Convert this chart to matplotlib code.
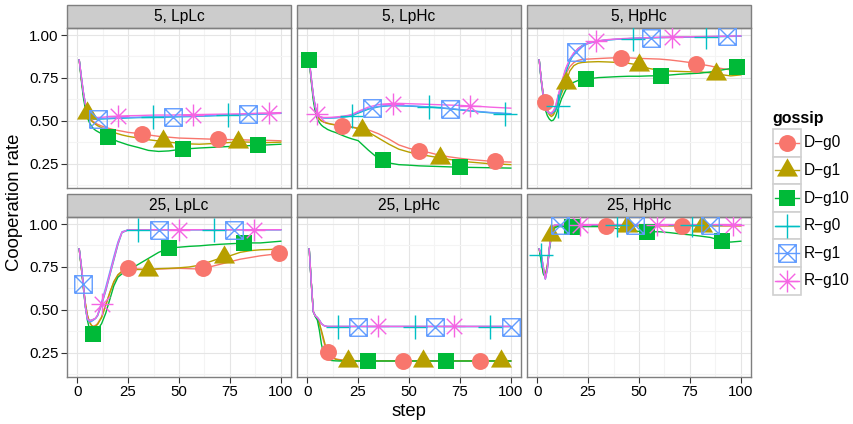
import numpy as np
import matplotlib
matplotlib.use('Agg')
import matplotlib.pyplot as plt
from matplotlib.path import Path
from matplotlib.patches import Rectangle

plt.rcParams['font.family'] = ['Liberation Sans', 'DejaVu Sans']

# ---- data ----
PANELS = ['5, LpLc', '5, LpHc', '5, HpHc', '25, LpLc', '25, LpHc', '25, HpHc']
GOSSIP = ['D\u2212g0', 'D\u2212g1', 'D\u2212g10', 'R\u2212g0', 'R\u2212g1', 'R\u2212g10']
COLORS = ['#F8766D', '#B79F00', '#00BA38', '#00BFC4', '#619CFF', '#F564E3']

STEPS = [1, 2, 3, 4, 5, 6, 7, 8, 9, 10, 12, 14, 16, 18, 20, 22, 25, 30, 35, 40,
         45, 50, 55, 60, 65, 70, 75, 80, 85, 90, 95, 100]

# 5, LpLc
p1_dg0 = [0.855, 0.75, 0.66, 0.59, 0.545, 0.52, 0.505, 0.495, 0.487, 0.48, 0.47, 0.462, 0.455, 0.449, 0.444, 0.44,
          0.433, 0.427, 0.418, 0.41, 0.405, 0.40, 0.398, 0.396, 0.394, 0.393, 0.391, 0.39, 0.388, 0.387, 0.386, 0.384]
p1_dg1 = [0.855, 0.75, 0.66, 0.59, 0.545, 0.515, 0.50, 0.49, 0.48, 0.472, 0.46, 0.45, 0.44, 0.432, 0.425, 0.418,
          0.41, 0.40, 0.39, 0.383, 0.376, 0.37, 0.366, 0.364, 0.367, 0.37, 0.374, 0.378, 0.376, 0.373, 0.374, 0.376]
p1_dg10 = [0.855, 0.74, 0.64, 0.57, 0.52, 0.49, 0.47, 0.455, 0.445, 0.438, 0.425, 0.412, 0.40, 0.39, 0.38, 0.372,
           0.36, 0.345, 0.328, 0.322, 0.325, 0.333, 0.338, 0.342, 0.345, 0.348, 0.351, 0.354, 0.356, 0.358, 0.361, 0.364]
p1_rg0 = [0.855, 0.76, 0.67, 0.60, 0.55, 0.525, 0.515, 0.51, 0.51, 0.51, 0.511, 0.512, 0.513, 0.514, 0.515, 0.515,
          0.517, 0.519, 0.52, 0.521, 0.522, 0.524, 0.525, 0.527, 0.529, 0.531, 0.533, 0.535, 0.537, 0.539, 0.542, 0.545]
p1_rg1 = [0.855, 0.76, 0.67, 0.60, 0.55, 0.525, 0.516, 0.512, 0.512, 0.513, 0.514, 0.515, 0.516, 0.517, 0.518, 0.518,
          0.52, 0.521, 0.523, 0.523, 0.525, 0.526, 0.527, 0.529, 0.531, 0.533, 0.534, 0.536, 0.538, 0.54, 0.542, 0.545]
p1_rg10 = [0.855, 0.76, 0.67, 0.60, 0.555, 0.53, 0.52, 0.518, 0.518, 0.52, 0.521, 0.523, 0.525, 0.526, 0.527, 0.528,
           0.53, 0.531, 0.533, 0.534, 0.534, 0.535, 0.536, 0.537, 0.538, 0.539, 0.54, 0.541, 0.543, 0.545, 0.546, 0.548]
p1_marks = [[32, 69], [5, 42, 79], [15, 52, 89], [37, 74], [10, 47, 84], [20, 57, 94]]

# 5, LpHc
p2_dg0 = [0.855, 0.74, 0.64, 0.57, 0.53, 0.51, 0.50, 0.495, 0.49, 0.487, 0.481, 0.477, 0.473, 0.47, 0.467, 0.464,
          0.458, 0.448, 0.425, 0.395, 0.36, 0.34, 0.327, 0.315, 0.30, 0.29, 0.282, 0.275, 0.27, 0.265, 0.262, 0.26]
p2_dg1 = [0.855, 0.74, 0.64, 0.57, 0.53, 0.51, 0.50, 0.494, 0.489, 0.485, 0.48, 0.476, 0.473, 0.47, 0.467, 0.463,
          0.455, 0.435, 0.40, 0.365, 0.335, 0.318, 0.305, 0.295, 0.285, 0.275, 0.268, 0.26, 0.255, 0.25, 0.248, 0.245]
p2_dg10 = [0.855, 0.73, 0.62, 0.55, 0.51, 0.49, 0.475, 0.465, 0.458, 0.45, 0.44, 0.432, 0.422, 0.412, 0.403, 0.395,
           0.385, 0.33, 0.28, 0.255, 0.245, 0.242, 0.238, 0.236, 0.234, 0.232, 0.23, 0.229, 0.228, 0.227, 0.226, 0.225]
p2_rg0 = [0.855, 0.75, 0.65, 0.58, 0.54, 0.525, 0.52, 0.518, 0.517, 0.517, 0.517, 0.518, 0.52, 0.522, 0.525, 0.53,
          0.545, 0.568, 0.582, 0.588, 0.588, 0.586, 0.583, 0.58, 0.576, 0.57, 0.564, 0.558, 0.552, 0.547, 0.544, 0.54]
p2_rg1 = [0.855, 0.75, 0.65, 0.58, 0.54, 0.525, 0.52, 0.518, 0.517, 0.517, 0.518, 0.519, 0.521, 0.524, 0.528, 0.534,
          0.55, 0.572, 0.584, 0.59, 0.59, 0.588, 0.585, 0.581, 0.577, 0.572, 0.566, 0.56, 0.554, 0.549, 0.545, 0.542]
p2_rg10 = [0.855, 0.75, 0.65, 0.58, 0.54, 0.527, 0.522, 0.52, 0.52, 0.52, 0.521, 0.523, 0.525, 0.528, 0.532, 0.538,
           0.555, 0.58, 0.595, 0.60, 0.602, 0.60, 0.598, 0.596, 0.594, 0.592, 0.59, 0.587, 0.584, 0.58, 0.577, 0.574]
p2_marks = [[17, 55, 92], [27, 65], [1, 37, 75], [22, 60, 97], [32, 70], [5, 42, 80]]

# 5, HpHc
p3_dg0 = [0.855, 0.74, 0.66, 0.61, 0.57, 0.545, 0.535, 0.545, 0.57, 0.61, 0.70, 0.77, 0.815, 0.84, 0.852, 0.858,
          0.86, 0.863, 0.866, 0.868, 0.867, 0.864, 0.862, 0.86, 0.855, 0.848, 0.84, 0.83, 0.82, 0.806, 0.797, 0.79]
p3_dg1 = [0.855, 0.74, 0.65, 0.59, 0.555, 0.535, 0.525, 0.535, 0.56, 0.60, 0.66, 0.72, 0.79, 0.822, 0.835, 0.84,
          0.843, 0.845, 0.843, 0.84, 0.835, 0.825, 0.805, 0.795, 0.79, 0.788, 0.786, 0.785, 0.78, 0.77, 0.762, 0.768]
p3_dg10 = [0.855, 0.73, 0.63, 0.565, 0.53, 0.51, 0.50, 0.505, 0.525, 0.56, 0.63, 0.68, 0.71, 0.725, 0.735, 0.74,
           0.745, 0.752, 0.755, 0.758, 0.76, 0.76, 0.762, 0.763, 0.767, 0.772, 0.775, 0.778, 0.785, 0.795, 0.805, 0.815]
p3_rg0 = [0.855, 0.74, 0.645, 0.585, 0.555, 0.545, 0.545, 0.55, 0.56, 0.585, 0.68, 0.78, 0.845, 0.89, 0.92, 0.938,
          0.955, 0.966, 0.972, 0.976, 0.979, 0.981, 0.983, 0.985, 0.986, 0.987, 0.988, 0.989, 0.99, 0.991, 0.992, 0.993]
p3_rg1 = [0.855, 0.74, 0.645, 0.585, 0.555, 0.545, 0.545, 0.555, 0.58, 0.63, 0.72, 0.80, 0.855, 0.893, 0.915, 0.932,
          0.95, 0.965, 0.972, 0.976, 0.979, 0.982, 0.984, 0.986, 0.987, 0.988, 0.989, 0.99, 0.991, 0.992, 0.993, 0.994]
p3_rg10 = [0.855, 0.74, 0.645, 0.585, 0.555, 0.545, 0.548, 0.56, 0.585, 0.635, 0.725, 0.805, 0.86, 0.897, 0.92, 0.936,
           0.953, 0.967, 0.974, 0.978, 0.981, 0.983, 0.985, 0.987, 0.988, 0.989, 0.99, 0.991, 0.992, 0.993, 0.994, 0.995]
p3_marks = [[4, 41, 78], [14, 50, 88], [24, 61, 98], [10, 47, 83], [19, 56, 93], [29, 66]]

# 25, LpLc
p4_dg0 = [0.855, 0.75, 0.64, 0.54, 0.47, 0.43, 0.41, 0.405, 0.41, 0.42, 0.46, 0.53, 0.60, 0.66, 0.70, 0.725,
          0.742, 0.738, 0.735, 0.738, 0.74, 0.742, 0.74, 0.738, 0.75, 0.765, 0.78, 0.795, 0.805, 0.815, 0.822, 0.83]
p4_dg1 = [0.855, 0.75, 0.64, 0.54, 0.47, 0.43, 0.41, 0.40, 0.405, 0.415, 0.455, 0.525, 0.60, 0.665, 0.705, 0.725,
          0.735, 0.735, 0.735, 0.74, 0.742, 0.745, 0.75, 0.76, 0.78, 0.80, 0.815, 0.835, 0.845, 0.85, 0.852, 0.855]
p4_dg10 = [0.855, 0.75, 0.63, 0.52, 0.44, 0.39, 0.37, 0.36, 0.37, 0.385, 0.42, 0.48, 0.56, 0.64, 0.69, 0.71,
           0.73, 0.765, 0.80, 0.835, 0.86, 0.865, 0.87, 0.873, 0.878, 0.882, 0.885, 0.888, 0.89, 0.89, 0.895, 0.90]
p4_rg0 = [0.855, 0.76, 0.65, 0.52, 0.45, 0.438, 0.44, 0.445, 0.45, 0.465, 0.53, 0.61, 0.70, 0.79, 0.88, 0.95,
          0.965, 0.966, 0.966, 0.966, 0.966, 0.966, 0.967, 0.967, 0.967, 0.967, 0.967, 0.967, 0.967, 0.967, 0.967, 0.967]
p4_rg1 = [0.855, 0.76, 0.65, 0.52, 0.445, 0.43, 0.432, 0.44, 0.45, 0.47, 0.545, 0.63, 0.72, 0.81, 0.895, 0.955,
          0.966, 0.966, 0.966, 0.966, 0.966, 0.966, 0.967, 0.967, 0.967, 0.967, 0.967, 0.967, 0.967, 0.967, 0.967, 0.967]
p4_rg10 = [0.855, 0.76, 0.65, 0.52, 0.45, 0.438, 0.44, 0.445, 0.452, 0.468, 0.535, 0.615, 0.705, 0.795, 0.885, 0.952,
           0.966, 0.967, 0.967, 0.967, 0.967, 0.967, 0.967, 0.967, 0.967, 0.967, 0.967, 0.967, 0.967, 0.967, 0.967, 0.967]
p4_marks = [[25, 62, 99], [35, 72], [8, 45, 82], [30, 67], [3, 40, 77], [12, 50, 87]]

# 25, LpHc
p5_dg0 = [0.855, 0.66, 0.49, 0.465, 0.45, 0.42, 0.37, 0.32, 0.28, 0.255, 0.225, 0.215, 0.21, 0.207, 0.205, 0.205,
          0.204, 0.204, 0.203, 0.203, 0.203, 0.203, 0.203, 0.203, 0.203, 0.203, 0.203, 0.203, 0.203, 0.203, 0.203, 0.203]
p5_dg1 = [0.855, 0.66, 0.49, 0.465, 0.45, 0.42, 0.38, 0.335, 0.29, 0.26, 0.225, 0.212, 0.207, 0.205, 0.204, 0.203,
          0.203, 0.203, 0.203, 0.203, 0.203, 0.203, 0.203, 0.203, 0.203, 0.203, 0.203, 0.203, 0.203, 0.203, 0.203, 0.203]
p5_dg10 = [0.855, 0.66, 0.49, 0.46, 0.44, 0.38, 0.30, 0.25, 0.225, 0.212, 0.205, 0.203, 0.202, 0.202, 0.202, 0.202,
           0.202, 0.202, 0.202, 0.202, 0.202, 0.202, 0.202, 0.202, 0.202, 0.202, 0.202, 0.202, 0.202, 0.202, 0.202, 0.202]
p5_rg0 = [0.855, 0.66, 0.49, 0.465, 0.455, 0.44, 0.42, 0.41, 0.405, 0.403, 0.403, 0.403, 0.403, 0.403, 0.403, 0.403,
          0.403, 0.403, 0.403, 0.403, 0.403, 0.403, 0.403, 0.403, 0.403, 0.403, 0.403, 0.403, 0.403, 0.403, 0.403, 0.403]
p5_rg1 = [0.855, 0.66, 0.49, 0.465, 0.455, 0.44, 0.42, 0.41, 0.405, 0.403, 0.403, 0.403, 0.403, 0.403, 0.403, 0.403,
          0.403, 0.403, 0.403, 0.403, 0.403, 0.403, 0.403, 0.403, 0.403, 0.403, 0.403, 0.403, 0.403, 0.403, 0.403, 0.403]
p5_rg10 = [0.855, 0.66, 0.49, 0.465, 0.455, 0.44, 0.42, 0.41, 0.405, 0.404, 0.404, 0.404, 0.404, 0.404, 0.404, 0.404,
           0.404, 0.404, 0.404, 0.404, 0.404, 0.404, 0.404, 0.404, 0.404, 0.404, 0.404, 0.404, 0.404, 0.404, 0.404, 0.404]
p5_marks = [[10, 47, 85], [20, 57, 95], [30, 68], [15, 53, 90], [25, 63, 100], [35, 72]]

# 25, HpHc
p6_dg0 = [0.855, 0.79, 0.72, 0.70, 0.76, 0.86, 0.94, 0.98, 0.99, 0.99, 0.99, 0.99, 0.99, 0.99, 0.99, 0.99,
          0.99, 0.99, 0.99, 0.99, 0.99, 0.99, 0.99, 0.99, 0.99, 0.99, 0.99, 0.99, 0.99, 0.99, 0.99, 0.99]
p6_dg1 = [0.855, 0.79, 0.72, 0.70, 0.76, 0.86, 0.935, 0.978, 0.988, 0.99, 0.99, 0.99, 0.99, 0.99, 0.99, 0.99,
          0.99, 0.99, 0.99, 0.99, 0.99, 0.99, 0.99, 0.99, 0.99, 0.99, 0.99, 0.99, 0.99, 0.99, 0.99, 0.99]
p6_dg10 = [0.855, 0.78, 0.71, 0.69, 0.75, 0.85, 0.93, 0.97, 0.98, 0.985, 0.985, 0.985, 0.985, 0.985, 0.985, 0.985,
           0.985, 0.985, 0.98, 0.972, 0.963, 0.957, 0.955, 0.955, 0.95, 0.943, 0.937, 0.93, 0.922, 0.905, 0.895, 0.90]
p6_rg0 = [0.855, 0.82, 0.75, 0.68, 0.74, 0.86, 0.96, 0.99, 0.994, 0.995, 0.995, 0.995, 0.995, 0.995, 0.995, 0.995,
          0.995, 0.995, 0.995, 0.995, 0.995, 0.995, 0.995, 0.995, 0.995, 0.995, 0.995, 0.995, 0.995, 0.995, 0.995, 0.995]
p6_rg1 = [0.855, 0.82, 0.75, 0.68, 0.74, 0.86, 0.96, 0.99, 0.995, 0.996, 0.996, 0.996, 0.996, 0.996, 0.996, 0.996,
          0.996, 0.996, 0.996, 0.996, 0.996, 0.996, 0.996, 0.996, 0.996, 0.996, 0.996, 0.996, 0.996, 0.996, 0.996, 0.996]
p6_rg10 = [0.855, 0.82, 0.75, 0.68, 0.74, 0.86, 0.96, 0.99, 0.995, 0.997, 0.997, 0.997, 0.997, 0.997, 0.997, 0.997,
           0.997, 0.997, 0.997, 0.997, 0.997, 0.997, 0.997, 0.997, 0.997, 0.997, 0.997, 0.997, 0.997, 0.997, 0.997, 0.997]
p6_marks = [[34, 71], [7, 44, 81], [17, 54, 91], [2, 39, 76], [11, 48, 85], [21, 59, 96]]

SERIES = [
    [p1_dg0, p1_dg1, p1_dg10, p1_rg0, p1_rg1, p1_rg10],
    [p2_dg0, p2_dg1, p2_dg10, p2_rg0, p2_rg1, p2_rg10],
    [p3_dg0, p3_dg1, p3_dg10, p3_rg0, p3_rg1, p3_rg10],
    [p4_dg0, p4_dg1, p4_dg10, p4_rg0, p4_rg1, p4_rg10],
    [p5_dg0, p5_dg1, p5_dg10, p5_rg0, p5_rg1, p5_rg10],
    [p6_dg0, p6_dg1, p6_dg10, p6_rg0, p6_rg1, p6_rg10],
]
MARKS = [p1_marks, p2_marks, p3_marks, p4_marks, p5_marks, p6_marks]

# ---- ggplot-like shapes ----
TRI = Path([(0, 1), (-0.866, -0.5), (0.866, -0.5), (0, 1)],
           [Path.MOVETO, Path.LINETO, Path.LINETO, Path.CLOSEPOLY])
BOXX = Path([(-1, -1), (1, -1), (1, 1), (-1, 1), (-1, -1), (-1, -1), (1, 1), (-1, 1), (1, -1)],
            [1, 2, 2, 2, 2, 1, 2, 1, 2])
d = 0.7071
STAR = Path([(0, -1), (0, 1), (-1, 0), (1, 0), (-d, -d), (d, d), (-d, d), (d, -d)],
            [1, 2, 1, 2, 1, 2, 1, 2])
# (marker, size pt, filled, edge width)
SHAPES = [('o', 12.2, True, 0), (TRI, 17.5, True, 0), ('s', 11.9, True, 0),
          ('+', 16.6, False, 1.0), (BOXX, 12.6, False, 1.0), (STAR, 15.8, False, 1.0)]


def mstyle(k):
    m, ms, filled, mew = SHAPES[k]
    if filled:
        return dict(marker=m, ms=ms, mfc=COLORS[k], mec='none', mew=0)
    return dict(marker=m, ms=ms, mfc='none', mec=COLORS[k], mew=mew)


W, H = 854, 424
fig = plt.figure(figsize=(W / 100, H / 100), dpi=100)
col_x = [67, 297, 527]
row_top = [28, 217]
pw, ph = 224, 160
steps = np.array(STEPS, dtype=float)

for i, name in enumerate(PANELS):
    r, c = divmod(i, 3)
    ax = fig.add_axes([col_x[c] / W, 1 - (row_top[r] + ph) / H, pw / W, ph / H])
    ax.set_facecolor('white')
    ax.set_xlim(-5, 105)
    ax.set_ylim(0.109, 1.041)
    ax.set_xticks([0, 25, 50, 75, 100])
    ax.set_xticks([12.5, 37.5, 62.5, 87.5], minor=True)
    ax.set_yticks([0.25, 0.5, 0.75, 1.0])
    ax.set_yticklabels(['0.25', '0.50', '0.75', '1.00'])
    ax.set_yticks([0.125, 0.375, 0.625, 0.875], minor=True)
    ax.grid(True, which='major', color='#E5E5E5', lw=0.8)
    ax.grid(True, which='minor', color='#F4F4F4', lw=0.8)
    ax.set_axisbelow(True)
    ax.tick_params(which='major', length=4, width=0.8, color='#333333', labelsize=10.8, pad=2,
                   labelcolor='black')
    ax.tick_params(which='minor', length=0)
    if c > 0:
        ax.tick_params(axis='y', left=False, labelleft=False)
    if r == 0:
        ax.tick_params(axis='x', bottom=False, labelbottom=False)
    for sp in ax.spines.values():
        sp.set_color('#7F7F7F')
        sp.set_linewidth(1.0)
    ax.add_patch(Rectangle((0, 1), 1, 23 / ph, transform=ax.transAxes, clip_on=False,
                           fc='#CCCCCC', ec='#7F7F7F', lw=1.0))
    ax.text(0.5, 1 + 11.5 / ph, name, transform=ax.transAxes, ha='center', va='center',
            fontsize=11.2, color='black')

    for k in range(6):
        ax.plot(steps, SERIES[i][k], color=COLORS[k], lw=1.0, zorder=2)
    for k in range(6):
        mx = np.array(MARKS[i][k], dtype=float)
        my = np.interp(mx, steps, SERIES[i][k])
        ax.plot(mx, my, ls='none', zorder=3, **mstyle(k))

fig.text(15 / W, 1 - 202 / H, 'Cooperation rate', rotation=90, ha='center', va='center', fontsize=13.3)
fig.text(409 / W, 1 - 411 / H, 'step', ha='center', va='center', fontsize=13.3)

# legend drawn in pixel coordinates
lg = fig.add_axes([0, 0, 1, 1])
lg.set_xlim(0, W)
lg.set_ylim(H, 0)
lg.axis('off')
lg.text(772, 119, 'gossip', fontsize=11.5, fontweight='bold', ha='left', va='center')
kh = 27.6
for k, lab in enumerate(GOSSIP):
    y0 = 129 + k * kh
    lg.add_patch(Rectangle((773, y0), 28, kh, fc='white', ec='#D0D0D0', lw=1.2))
    yc = y0 + kh / 2
    lg.plot([775, 799], [yc, yc], color=COLORS[k], lw=1.0)
    lg.plot([787], [yc], ls='none', **mstyle(k))
    lg.text(804, yc, lab, fontsize=11.2, ha='left', va='center')

fig.savefig('out.png', dpi=100)
